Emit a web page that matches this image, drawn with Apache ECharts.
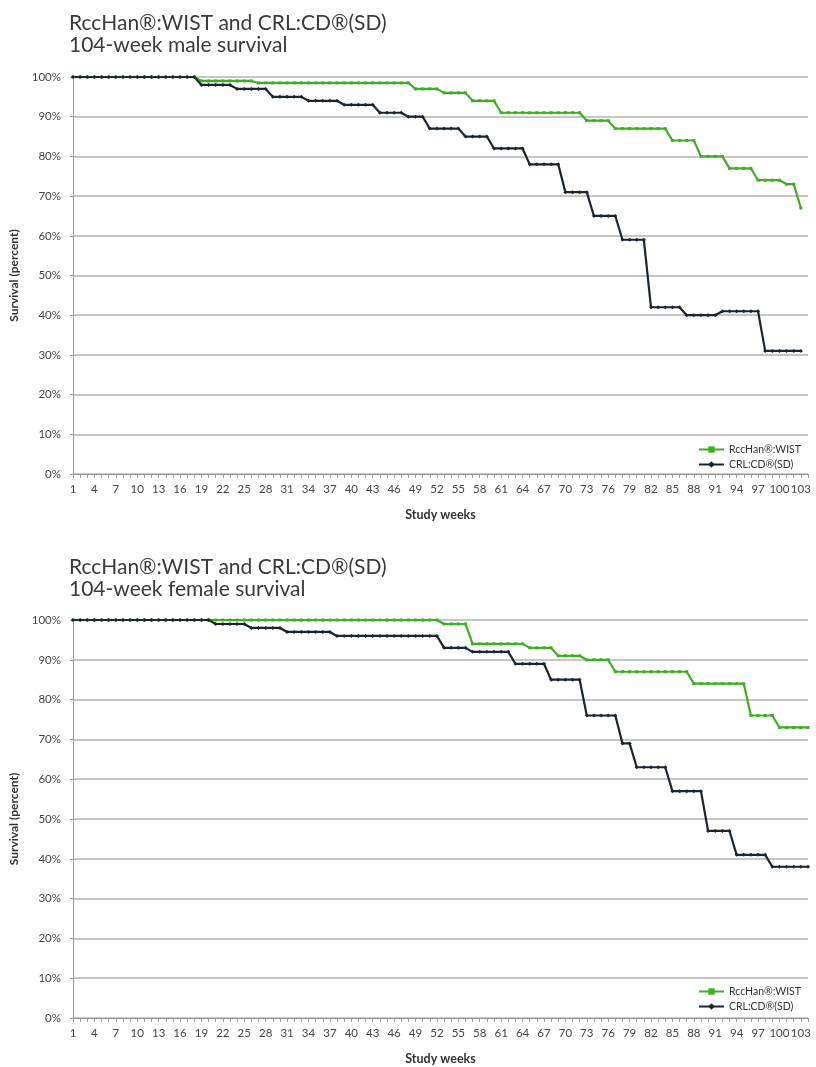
<!DOCTYPE html>
<html>
<head>
<meta charset="utf-8">
<script src="https://cdn.jsdelivr.net/npm/echarts@6/dist/echarts.min.js"></script>
<style>
  html, body { margin: 0; padding: 0; background: #fff; }
  #chart { width: 816px; height: 1067px; }
</style>
</head>
<body>
<div id="chart"></div>
<script>
var weeks = [
  "1", "2", "3", "4", "5", "6", "7", "8", "9", "10",
  "11", "12", "13", "14", "15", "16", "17", "18", "19", "20",
  "21", "22", "23", "24", "25", "26", "27", "28", "29", "30",
  "31", "32", "33", "34", "35", "36", "37", "38", "39", "40",
  "41", "42", "43", "44", "45", "46", "47", "48", "49", "50",
  "51", "52", "53", "54", "55", "56", "57", "58", "59", "60",
  "61", "62", "63", "64", "65", "66", "67", "68", "69", "70",
  "71", "72", "73", "74", "75", "76", "77", "78", "79", "80",
  "81", "82", "83", "84", "85", "86", "87", "88", "89", "90",
  "91", "92", "93", "94", "95", "96", "97", "98", "99", "100",
  "101", "102", "103", "104"
];

// male, weeks 1-103
var maleWist = [
  100, 100, 100, 100, 100, 100, 100, 100, 100, 100,
  100, 100, 100, 100, 100, 100, 100, 100, 99, 99,
  99, 99, 99, 99, 99, 99, 98.5, 98.5, 98.5, 98.5,
  98.5, 98.5, 98.5, 98.5, 98.5, 98.5, 98.5, 98.5, 98.5, 98.5,
  98.5, 98.5, 98.5, 98.5, 98.5, 98.5, 98.5, 98.5, 97, 97,
  97, 97, 96, 96, 96, 96, 94, 94, 94, 94,
  91, 91, 91, 91, 91, 91, 91, 91, 91, 91,
  91, 91, 89, 89, 89, 89, 87, 87, 87, 87,
  87, 87, 87, 87, 84, 84, 84, 84, 80, 80,
  80, 80, 77, 77, 77, 77, 74, 74, 74, 74,
  73, 73, 67
];
var maleCd = [
  100, 100, 100, 100, 100, 100, 100, 100, 100, 100,
  100, 100, 100, 100, 100, 100, 100, 100, 98, 98,
  98, 98, 98, 97, 97, 97, 97, 97, 95, 95,
  95, 95, 95, 94, 94, 94, 94, 94, 93, 93,
  93, 93, 93, 91, 91, 91, 91, 90, 90, 90,
  87, 87, 87, 87, 87, 85, 85, 85, 85, 82,
  82, 82, 82, 82, 78, 78, 78, 78, 78, 71,
  71, 71, 71, 65, 65, 65, 65, 59, 59, 59,
  59, 42, 42, 42, 42, 42, 40, 40, 40, 40,
  40, 41, 41, 41, 41, 41, 41, 31, 31, 31,
  31, 31, 31
];

// female, weeks 1-104
var femaleWist = [
  100, 100, 100, 100, 100, 100, 100, 100, 100, 100,
  100, 100, 100, 100, 100, 100, 100, 100, 100, 100,
  100, 100, 100, 100, 100, 100, 100, 100, 100, 100,
  100, 100, 100, 100, 100, 100, 100, 100, 100, 100,
  100, 100, 100, 100, 100, 100, 100, 100, 100, 100,
  100, 100, 99, 99, 99, 99, 94, 94, 94, 94,
  94, 94, 94, 94, 93, 93, 93, 93, 91, 91,
  91, 91, 90, 90, 90, 90, 87, 87, 87, 87,
  87, 87, 87, 87, 87, 87, 87, 84, 84, 84,
  84, 84, 84, 84, 84, 76, 76, 76, 76, 73,
  73, 73, 73, 73
];
var femaleCd = [
  100, 100, 100, 100, 100, 100, 100, 100, 100, 100,
  100, 100, 100, 100, 100, 100, 100, 100, 100, 100,
  99, 99, 99, 99, 99, 98, 98, 98, 98, 98,
  97, 97, 97, 97, 97, 97, 97, 96, 96, 96,
  96, 96, 96, 96, 96, 96, 96, 96, 96, 96,
  96, 96, 93, 93, 93, 93, 92, 92, 92, 92,
  92, 92, 89, 89, 89, 89, 89, 85, 85, 85,
  85, 85, 76, 76, 76, 76, 76, 69, 69, 63,
  63, 63, 63, 63, 57, 57, 57, 57, 57, 47,
  47, 47, 47, 41, 41, 41, 41, 41, 38, 38,
  38, 38, 38, 38
];

var FONT = "Lato";
var GREEN = "#3fae24";
var DARK = "#1b2431";

function xAxisFor(idx) {
  return {
    type: "category",
    gridIndex: idx,
    data: weeks,
    boundaryGap: false,
    name: "Study weeks",
    nameLocation: "middle",
    nameGap: 34,
    nameTextStyle: { fontFamily: FONT, fontSize: 12.5, fontWeight: "bold", color: "#333" },
    axisLine: { lineStyle: { color: "#999", width: 1 } },
    axisTick: { interval: 0, length: 4, lineStyle: { color: "#999" } },
    axisLabel: { interval: 2, margin: 9, fontFamily: FONT, fontSize: 11.5, color: "#444" },
    splitLine: { show: false }
  };
}

function yAxisFor(idx) {
  return {
    type: "value",
    gridIndex: idx,
    min: 0,
    max: 100,
    interval: 10,
    name: "Survival (percent)",
    nameLocation: "middle",
    nameGap: 53,
    nameTextStyle: { fontFamily: FONT, fontSize: 12, fontWeight: "bold", color: "#333" },
    axisLine: { show: true, lineStyle: { color: "#999", width: 1 } },
    axisTick: { show: true, length: 3, lineStyle: { color: "#999" } },
    axisLabel: { formatter: "{value}%", margin: 12, fontFamily: FONT, fontSize: 11.5, color: "#444" },
    splitLine: { lineStyle: { color: "#b3b3b3", width: 1.5 } }
  };
}

function wistSeries(idx, data) {
  return {
    name: "RccHan®:WIST",
    type: "line",
    xAxisIndex: idx,
    yAxisIndex: idx,
    data: data,
    symbol: "rect",
    symbolSize: 3,
    lineStyle: { color: GREEN, width: 2.2 },
    itemStyle: { color: GREEN }
  };
}

function cdSeries(idx, data) {
  return {
    name: "CRL:CD®(SD)",
    type: "line",
    xAxisIndex: idx,
    yAxisIndex: idx,
    data: data,
    symbol: "diamond",
    symbolSize: 4,
    lineStyle: { color: DARK, width: 2.2 },
    itemStyle: { color: DARK }
  };
}

var chart = echarts.init(document.getElementById("chart"));
var option = {
  backgroundColor: "#ffffff",
  animation: false,
  title: [
    {
      text: "RccHan®:WIST and CRL:CD®(SD)\n104-week male survival",
      left: 64,
      top: 7,
      textStyle: { fontFamily: FONT, fontSize: 21, lineHeight: 22, fontWeight: "normal", color: "#3a3a3a" }
    },
    {
      text: "RccHan®:WIST and CRL:CD®(SD)\n104-week female survival",
      left: 64,
      top: 551,
      textStyle: { fontFamily: FONT, fontSize: 21, lineHeight: 22, fontWeight: "normal", color: "#3a3a3a" }
    }
  ],
  legend: [
    {
      orient: "vertical",
      right: 10,
      top: 439,
      itemWidth: 25,
      itemHeight: 8,
      itemGap: 4,
      textStyle: { fontFamily: FONT, fontSize: 10.5, color: "#333" },
      data: ["RccHan®:WIST", "CRL:CD®(SD)"]
    },
    {
      orient: "vertical",
      right: 10,
      top: 981,
      itemWidth: 25,
      itemHeight: 8,
      itemGap: 4,
      textStyle: { fontFamily: FONT, fontSize: 10.5, color: "#333" },
      data: ["RccHan®:WIST", "CRL:CD®(SD)"]
    }
  ],
  grid: [
    { left: 70, top: 77, width: 738, height: 397 },
    { left: 70, top: 620, width: 738, height: 398 }
  ],
  xAxis: [xAxisFor(0), xAxisFor(1)],
  yAxis: [yAxisFor(0), yAxisFor(1)],
  series: [
    wistSeries(0, maleWist),
    cdSeries(0, maleCd),
    wistSeries(1, femaleWist),
    cdSeries(1, femaleCd)
  ]
};
chart.setOption(option);
</script>
</body>
</html>
